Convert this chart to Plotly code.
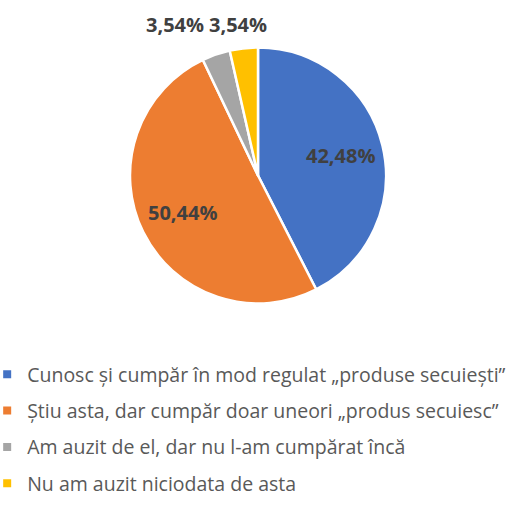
import math
import plotly.graph_objects as go

categories = [
    "Cunosc și cumpăr în mod regulat „produse secuiești”",
    "Știu asta, dar cumpăr doar uneori „produs secuiesc”",
    "Am auzit de el, dar nu l-am cumpărat încă",
    "Nu am auzit niciodata de asta",
]
values = [42.48, 50.44, 3.54, 3.54]
colors = ["#4472C4", "#ED7D31", "#A5A5A5", "#FFC000"]
inside_label = [True, True, False, False]


def fmt(v):
    return f"{v:.2f}%".replace(".", ",")


W, H = 513, 511
# pie placement (pixels)
CX, CY, R = 258, 175.5, 128

label_font = dict(family="Open Sans", size=20, color="#404040", weight="bold")

fig = go.Figure()
fig.add_trace(go.Pie(
    labels=categories,
    values=values,
    sort=False,
    direction="clockwise",
    rotation=0,
    marker=dict(colors=colors, line=dict(color="white", width=2.5)),
    textinfo="none",
    showlegend=False,
    domain=dict(x=[(CX - R) / W, (CX + R) / W], y=[(H - CY - R) / H, (H - CY + R) / H]),
    hoverinfo="label+percent",
))

# data labels: large slices inside (placed along the slice's mid angle),
# small slices as call-outs above the pie, as in the original
total = sum(values)
cum = 0.0
small_pos = iter([(174.5, 25), (237.5, 25)])
for v, ins in zip(values, inside_label):
    mid = (cum + v / 2) / total * 2 * math.pi
    cum += v
    if ins:
        px = CX + 0.66 * R * math.sin(mid)
        py = CY - 0.66 * R * math.cos(mid)
    else:
        px, py = next(small_pos)
    fig.add_annotation(
        x=px / W, y=1 - py / H, xref="paper", yref="paper",
        text=fmt(v), showarrow=False, font=label_font,
        xanchor="center", yanchor="middle",
    )

for name, col in zip(categories, colors):
    fig.add_trace(go.Scatter(
        x=[None], y=[None], mode="markers", name=name,
        marker=dict(symbol="square", size=8, color=col),
        legendgroup=name, showlegend=True,
    ))

fig.update_layout(
    width=W, height=H,
    margin=dict(l=0, r=0, t=0, b=0, autoexpand=False),
    paper_bgcolor="white", plot_bgcolor="white",
    xaxis=dict(visible=False), yaxis=dict(visible=False),
    legend=dict(
        x=-0.025, y=1 - 355 / H, xanchor="left", yanchor="top",
        font=dict(family="Open Sans", size=19.5, color="#595959"),
        tracegroupgap=8, itemwidth=30,
        bgcolor="rgba(0,0,0,0)",
    ),
)

fig.write_html("out.html", config={"displayModeBar": False},
               post_script="document.body.style.margin='0';")
